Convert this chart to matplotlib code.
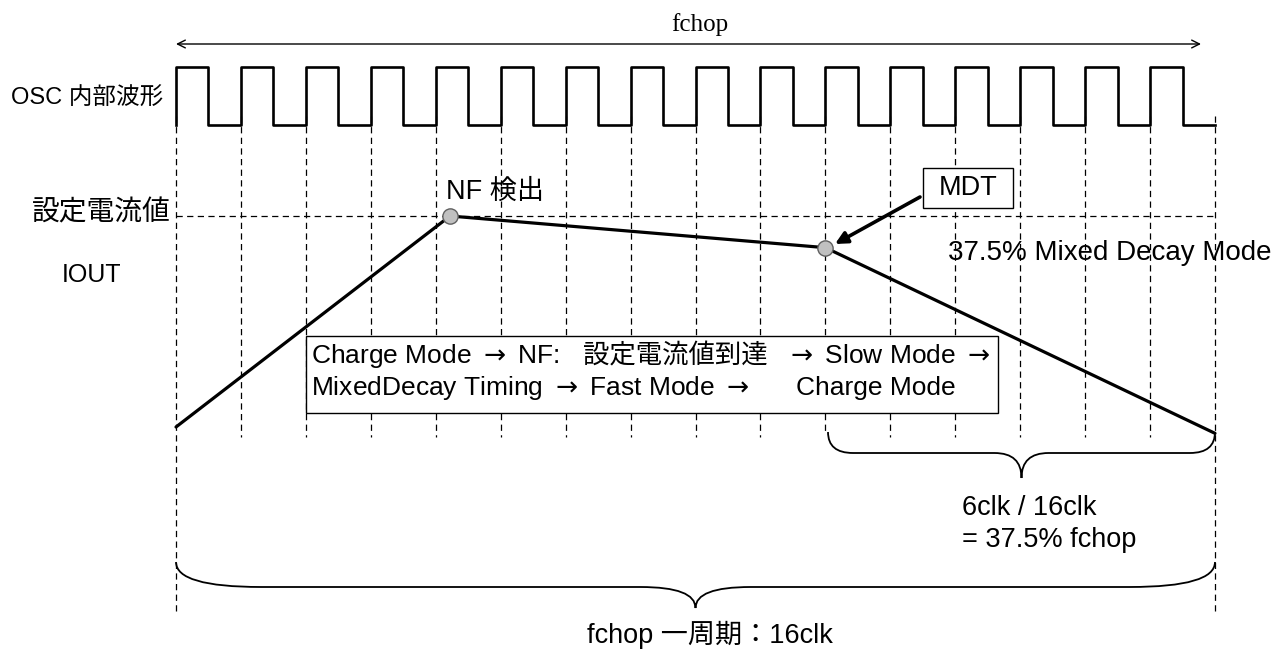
import matplotlib
matplotlib.use("Agg")
import matplotlib.pyplot as plt
from matplotlib.path import Path
from matplotlib.patches import PathPatch, Rectangle
import matplotlib.transforms as mtransforms

# ---------------- data ----------------
# OSC waveform: one level per half clock period (16 clocks)
osc_levels = [1, 0, 1, 0, 1, 0, 1, 0, 1, 0, 1, 0, 1, 0, 1, 0,
              1, 0, 1, 0, 1, 0, 1, 0, 1, 0, 1, 0, 1, 0, 1, 0]
n_clk = 16
clk_ticks = list(range(0, 17))

# IOUT waveform (time in clk, current relative to set value)
iout_t = [0.0, 4.22, 10.0, 16.0]
iout_val = [0.0, 1.0, 0.85, -0.03]
set_current = 1.0
nf_point = (4.22, 1.0)
mdt_point = (10.0, 0.85)

sans = ['Liberation Sans', 'Noto Sans CJK JP']
cjk = ['Noto Sans CJK JP', 'Liberation Sans']
plt.rcParams['mathtext.fontset'] = 'dejavusans'

W, H = 1279, 652
fig = plt.figure(figsize=(W / 100, H / 100), dpi=100)

# pixel-space annotation axes
ann = fig.add_axes([0, 0, 1, 1])
ann.set_xlim(0, W)
ann.set_ylim(H, 0)
ann.axis('off')

# time/current axes
X0, X1 = 176, 1215
spp = n_clk / (X1 - X0)
ax = fig.add_axes([0, 0, 1, 1])
ax.set_xlim(-X0 * spp, (W - X0) * spp)
ax.set_ylim((427 - H) / 211, 427 / 211)
ax.axis('off')
ax.patch.set_alpha(0)

# clock axes
axc = fig.add_axes([0, 0, 1, 1])
axc.set_xlim(-X0 * spp, (W - X0) * spp)
axc.set_ylim((125 - H) / 58, 125 / 58)
axc.axis('off')
axc.patch.set_alpha(0)

# ---- clock waveform ----
half = [i * 0.5 for i in range(len(osc_levels) + 1)]
xs = [0.0] + half
ys = [0] + osc_levels + [osc_levels[-1]]
axc.step(xs, ys, where='post', color='black', lw=1.9, zorder=3)

# ---- dashed grid lines ----
blend = mtransforms.blended_transform_factory(ax.transData, ann.transData)
for t in clk_ticks:
    if t in (0, n_clk):
        y_bot = 612
    elif t == 10:
        y_bot = 432
    else:
        y_bot = 437
    ann.plot([t, t], [116, y_bot], transform=blend, color='black', lw=0.9,
             ls=(0, (5, 3.5)), zorder=1)

# set current dashed line
ax.plot([0, n_clk], [set_current, set_current], color='black', lw=0.9,
        ls=(0, (5, 3.5)), zorder=1)

# ---- IOUT ----
ax.plot(iout_t, iout_val, color='black', lw=2.3, zorder=4, solid_capstyle='round')
for p in (nf_point, mdt_point):
    ax.plot([p[0]], [p[1]], 'o', ms=11, mfc='#c0c0c0', mec='#606060', mew=1,
            zorder=5)

# ---- fchop arrow ----
ann.annotate('', xy=(1201, 44), xytext=(176, 44),
             arrowprops=dict(arrowstyle='<->', lw=1.0, color='black',
                             shrinkA=0, shrinkB=0, mutation_scale=14))
ann.text(700, 25, 'fchop', family='Liberation Serif', fontsize=18,
         ha='center', va='center')

# ---- labels ----
ann.text(11, 99, 'OSC 内部波形', family=sans, fontsize=17, ha='left', va='center')
ann.text(171, 212, '設定電流値', family=cjk, fontsize=20, ha='right', va='center')
ann.text(62, 275, 'IOUT', family=sans, fontsize=18, ha='left', va='center')
ann.text(446, 192, 'NF 検出', family=sans, fontsize=19.5, ha='left', va='center')
ann.text(948, 253, '37.5% Mixed Decay Mode', family=sans, fontsize=20,
         ha='left', va='center', zorder=6)

# MDT box and arrow
ann.add_patch(Rectangle((923, 168), 90, 40, facecolor='white', edgecolor='black',
                        lw=1.0, zorder=6))
ann.text(968, 188, 'MDT', family=sans, fontsize=19.5, ha='center', va='center', zorder=7)
ann.annotate('', xy=(835, 244), xytext=(920, 197),
             arrowprops=dict(arrowstyle='-|>', lw=2.6, color='black',
                             shrinkA=0, shrinkB=0, mutation_scale=18), zorder=6)

# ---- mode text box ----
ann.add_patch(Rectangle((306, 336), 692, 77, facecolor='white', edgecolor='black',
                        lw=1.0, zorder=6))
box_fs = 19
ann.text(311, 356, r'Charge Mode $\rightarrow$ NF:', family='Liberation Sans',
         fontsize=box_fs, ha='left', va='center', zorder=7)
ann.text(583, 356, '設定電流値到達', family=cjk, fontsize=19,
         ha='left', va='center', zorder=7)
ann.text(785, 356, r'$\rightarrow$ Slow Mode $\rightarrow$', family='Liberation Sans',
         fontsize=box_fs, ha='left', va='center', zorder=7)
ann.text(311, 388, r'MixedDecay Timing $\rightarrow$ Fast Mode $\rightarrow$',
         family='Liberation Sans', fontsize=box_fs, ha='left', va='center', zorder=7)
ann.text(796, 388, 'Charge Mode', family='Liberation Sans',
         fontsize=box_fs, ha='left', va='center', zorder=7)


# ---- braces ----
def brace(x0, x1, y_end, y_flat, y_tip, r, r2):
    xm = (x0 + x1) / 2
    verts = [(x0, y_end), (x0, y_flat), (x0 + r, y_flat),
             (xm - r2, y_flat), (xm, y_flat), (xm, y_tip),
             (xm, y_flat), (xm + r2, y_flat),
             (x1 - r, y_flat), (x1, y_flat), (x1, y_end)]
    codes = [Path.MOVETO, Path.CURVE3, Path.CURVE3,
             Path.LINETO, Path.CURVE3, Path.CURVE3,
             Path.CURVE3, Path.CURVE3,
             Path.LINETO, Path.CURVE3, Path.CURVE3]
    ann.add_patch(PathPatch(Path(verts, codes), facecolor='none',
                            edgecolor='black', lw=1.3, zorder=3))


brace(828, 1215, 432, 453, 478, 25, 27)
brace(176, 1215, 562, 587, 608, 85, 55)

ann.text(962, 508, '6clk / 16clk', family=sans, fontsize=19.5, ha='left', va='center')
ann.text(962, 540, '= 37.5% fchop', family=sans, fontsize=19.5, ha='left', va='center')
ann.text(587, 635, 'fchop 一周期：16clk', family=sans, fontsize=19.5,
         ha='left', va='center')

fig.savefig('out.png', dpi=100)
